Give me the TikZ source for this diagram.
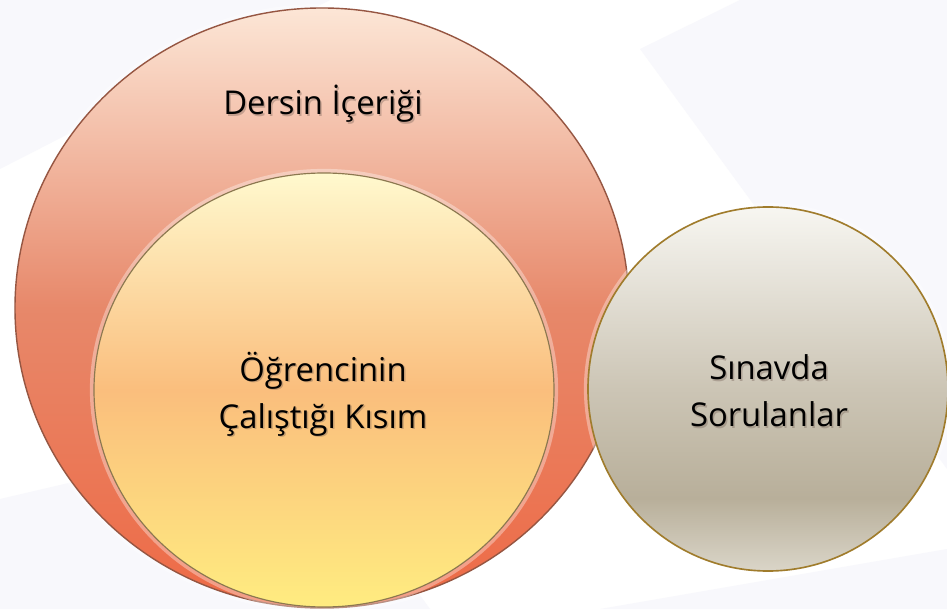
\documentclass[tikz,border=0pt]{standalone}
\usepackage{fontspec}
\setmainfont{Open Sans}
\usetikzlibrary{shapes.geometric}
\definecolor{ringtop}   {RGB}{252,230,214}
\definecolor{ringmid}   {RGB}{231,136,106}
\definecolor{ringbot}   {RGB}{238,106, 70}
\definecolor{ringline}  {RGB}{150, 86, 66}
\definecolor{coretop}   {RGB}{255,249,206}
\definecolor{coremid}   {RGB}{250,190,125}
\definecolor{corebot}   {RGB}{255,236,128}
\definecolor{coreline}  {RGB}{140,120, 80}
\definecolor{examline}  {RGB}{160,124, 44}
\definecolor{backgray}  {RGB}{248,248,252}
\definecolor{textshade} {RGB}{110, 90, 80}
%% sand ball: light top, darker lower third, lighter rim at the bottom
\pgfdeclareverticalshading{sandball}{100bp}{%
  color(0bp)=(rgb,255:red,218;green,213;blue,200);
  color(25bp)=(rgb,255:red,218;green,213;blue,200);
  color(35bp)=(rgb,255:red,184;green,175;blue,154);
  color(50bp)=(rgb,255:red,204;green,197;blue,181);
  color(75bp)=(rgb,255:red,247;green,246;blue,241);
  color(100bp)=(rgb,255:red,247;green,246;blue,241)}
\tikzset{
  %% nested target ellipses (middle color must come last)
  ringball/.style={
    ellipse, draw=ringline, line width=1.2pt, inner sep=0pt,
    top color=ringtop, bottom color=ringbot, middle color=ringmid
  },
  coreball/.style={
    ellipse, draw=coreline, line width=1pt, inner sep=0pt,
    top color=coretop, bottom color=corebot, middle color=coremid
  },
  examball/.style={
    ellipse, draw=examline, line width=1.4pt, inner sep=0pt,
    shading=sandball
  },
  halo/.style={ellipse, draw=white, draw opacity=0.35, line width=7pt, inner sep=0pt},
  balltext/.style={
    font=\fontsize{28}{40}\selectfont, align=center, text=black, inner sep=0pt
  },
  shadetext/.style={balltext, text=textshade, text opacity=0.35},
}

\begin{document}
\begin{tikzpicture}[x=0.03cm, y=0.03cm]

  %% canvas (pixels, y measured upwards)
  \useasboundingbox (0,0) rectangle (947,609);
  \fill[white] (0,0) rectangle (947,609);
  \fill[backgray] (0,440) -- (330,609) -- (0,609) -- cycle;
  \fill[backgray] (640,560) -- (740,609) -- (947,609) -- (947,140) -- cycle;
  \fill[backgray] (0,0) -- (0,110) -- (300,180) -- (430,0) -- cycle;
  \fill[backgray] (600,0) -- (947,0) -- (947,60) -- cycle;

  %% outer ring  (614 x 600 px)
  \node[halo, minimum width=18.42cm, minimum height=18.0cm] (ringglow) at (322,301) {};
  \node[ringball, minimum width=18.42cm, minimum height=18.0cm] (ring) at (322,301) {};

  %% inner core  (460 x 434 px)
  \node[halo, minimum width=13.8cm, minimum height=13.02cm] (coreglow) at (324,219) {};
  \node[coreball, minimum width=13.8cm, minimum height=13.02cm] (core) at (324,219) {};

  %% exam questions ball  (360 x 364 px)
  \node[halo, minimum width=10.8cm, minimum height=10.92cm] (examglow) at (768,220) {};
  \node[examball, minimum width=10.8cm, minimum height=10.92cm] (exam) at (768,220) {};

  %% labels (with soft shadow)
  \node[shadetext] (ringshade) at (324.5,503.5) {Dersin İçeriği};
  \node[balltext]  (ringlabel) at (323,505) {Dersin İçeriği};

  \node[shadetext] (coreshade) at (324.5,213.5) {Öğrencinin\\Çalıştığı Kısım};
  \node[balltext]  (corelabel) at (323,215) {Öğrencinin\\Çalıştığı Kısım};

  \node[shadetext] (examshade) at (770.5,216.5) {Sınavda\\Sorulanlar};
  \node[balltext]  (examlabel) at (769,218) {Sınavda\\Sorulanlar};

\end{tikzpicture}
\end{document}
